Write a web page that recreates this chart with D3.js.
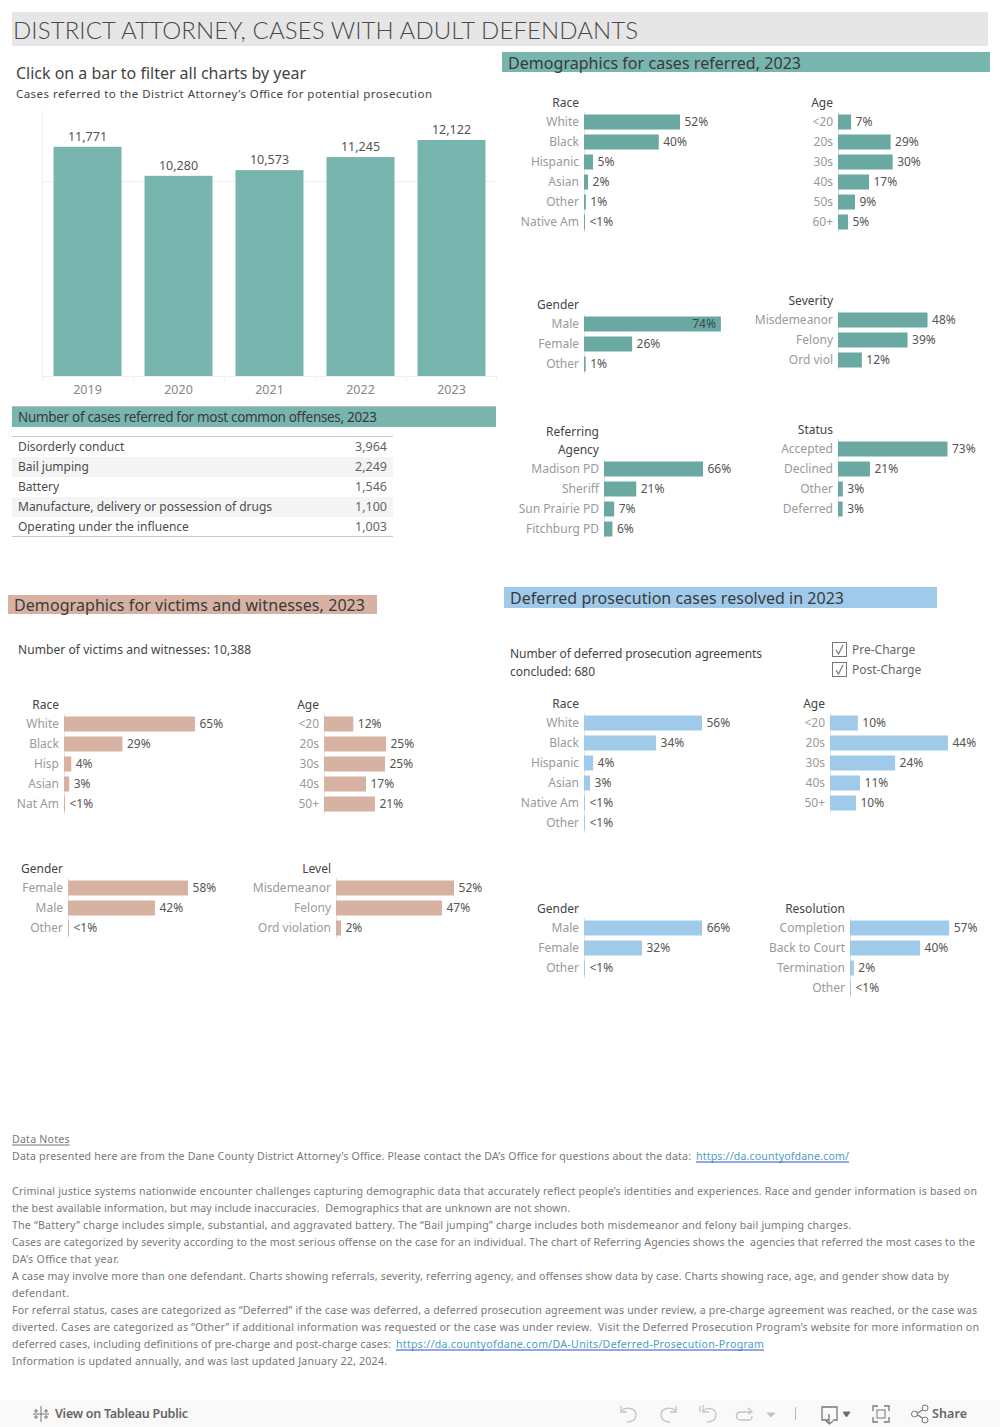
<!DOCTYPE html>
<html><head><meta charset="utf-8">
<script src="https://cdn.jsdelivr.net/npm/d3@7"></script>
<style>
html,body{margin:0;padding:0;background:#fff}
svg{display:block}
text{font-family:"Noto Sans",sans-serif}
</style></head><body>
<div id="chart"></div>
<script>
// ---------- data ----------
const years=["2019","2020","2021","2022","2023"];
const yearCases=[11771,10280,10573,11245,12122];
const offenses=["Disorderly conduct","Bail jumping","Battery","Manufacture, delivery or possession of drugs","Operating under the influence"];
const offenseCases=[3964,2249,1546,1100,1003];

const refRaceCats=["White","Black","Hispanic","Asian","Other","Native Am"];
const refRaceVals=[52,40.5,4.9,2.2,1,0.5];
const refRaceLabels=["52%","40%","5%","2%","1%","<1%"];
const refAgeCats=["<20","20s","30s","40s","50s","60+"];
const refAgeVals=[7.1,28.5,29.6,16.8,9.2,5.4];
const refAgeLabels=["7%","29%","30%","17%","9%","5%"];
const refGenderCats=["Male","Female","Other"];
const refGenderVals=[74,26,0.9];
const refGenderLabels=["74%","26%","1%"];
const refSevCats=["Misdemeanor","Felony","Ord viol"];
const refSevVals=[48.4,37.6,12.9];
const refSevLabels=["48%","39%","12%"];
const refAgencyCats=["Madison PD","Sheriff","Sun Prairie PD","Fitchburg PD"];
const refAgencyVals=[66,21.5,6.8,5.6];
const refAgencyLabels=["66%","21%","7%","6%"];
const refStatusCats=["Accepted","Declined","Other","Deferred"];
const refStatusVals=[73,21.3,3.2,3.1];
const refStatusLabels=["73%","21%","3%","3%"];

const vicRaceCats=["White","Black","Hisp","Asian","Nat Am"];
const vicRaceVals=[65,29,3.6,2.6,0.5];
const vicRaceLabels=["65%","29%","4%","3%","<1%"];
const vicAgeCats=["<20","20s","30s","40s","50+"];
const vicAgeVals=[12,25.4,25,17.2,20.9];
const vicAgeLabels=["12%","25%","25%","17%","21%"];
const vicGenderCats=["Female","Male","Other"];
const vicGenderVals=[58,42,0.4];
const vicGenderLabels=["58%","42%","<1%"];
const vicLevelCats=["Misdemeanor","Felony","Ord violation"];
const vicLevelVals=[52,46.7,2.2];
const vicLevelLabels=["52%","47%","2%"];

const defRaceCats=["White","Black","Hispanic","Asian","Native Am","Other"];
const defRaceVals=[56,34.2,4.3,2.9,0.4,0.4];
const defRaceLabels=["56%","34%","4%","3%","<1%","<1%"];
const defAgeCats=["<20","20s","30s","40s","50+"];
const defAgeVals=[10.4,44,24.3,11.2,9.7];
const defAgeLabels=["10%","44%","24%","11%","10%"];
const defGenderCats=["Male","Female","Other"];
const defGenderVals=[66,32.4,0.5];
const defGenderLabels=["66%","32%","<1%"];
const defResCats=["Completion","Back to Court","Termination","Other"];
const defResVals=[57,40.3,2.2,0.5];
const defResLabels=["57%","40%","2%","<1%"];

const checkItems=["Pre-Charge","Post-Charge"];
const noteLines=[
"Criminal justice systems nationwide encounter challenges capturing demographic data that accurately reflect people\u2019s identities and experiences. Race and gender information is based on",
"the best available information, but may include inaccuracies.  Demographics that are unknown are not shown.",
"The \u201CBattery\u201D charge includes simple, substantial, and aggravated battery. The \u201CBail jumping\u201D charge includes both misdemeanor and felony bail jumping charges.",
"Cases are categorized by severity according to the most serious offense on the case for an individual. The chart of Referring Agencies shows the  agencies that referred the most cases to the",
"DA\u2019s Office that year.",
"A case may involve more than one defendant. Charts showing referrals, severity, referring agency, and offenses show data by case. Charts showing race, age, and gender show data by",
"defendant.",
"For referral status, cases are categorized as \u201CDeferred\u201D if the case was deferred, a deferred prosecution agreement was under review, a pre-charge agreement was reached, or the case was",
"diverted. Cases are categorized as \u201COther\u201D if additional information was requested or the case was under review.  Visit the Deferred Prosecution Program\u2019s website for more information on"
];

// ---------- layout ----------
const TEAL="#78b5ae",TEAL_D="#6aa9a2",PEACH="#d7b2a2",BLUE="#9fcae9";
const DARK="#555",GREY="#9a9a9a",HEAD="#3a3a3a";
const svg=d3.select("#chart").append("svg").attr("width",1000).attr("height",1427);
function T(x,cy,s,o={}){
  const t=svg.append("text").attr("x",x).attr("y",cy).attr("dy","0.35em")
   .attr("font-size",o.size||12).attr("fill",o.fill||DARK).attr("text-anchor",o.anchor||"start").text(s);
  t.style("white-space","pre");
  if(o.weight)t.attr("font-weight",o.weight);
  if(o.font)t.style("font-family",o.font);
  if(o.w){t.attr("textLength",o.w).attr("lengthAdjust","spacing");}
  return t;
}
function R(x0,y0,x1,y1,f){svg.append("rect").attr("x",x0).attr("y",y0).attr("width",x1-x0).attr("height",y1-y0).attr("fill",f);}
function L(x1,y1,x2,y2,c,w=1){svg.append("line").attr("x1",x1).attr("y1",y1).attr("x2",x2).attr("y2",y2).attr("stroke",c).attr("stroke-width",w);}

// title and headers
R(12,12,988,46,"#e6e6e6");
T(13,30.5,"DISTRICT ATTORNEY, CASES WITH ADULT DEFENDANTS",{size:24,fill:"#4a4a4a",w:625,weight:300,font:"Lato"});
R(502,52,990,72,TEAL);
T(508,63,"Demographics for cases referred, 2023",{size:16,fill:HEAD,w:293});
T(16,73,"Click on a bar to filter all charts by year",{size:16,fill:"#444",w:290});
T(16,94,"Cases referred to the District Attorney\u2019s Office for potential prosecution",{size:11.5,fill:"#444",w:416});

// year bars
const yx=d3.scaleBand().domain(years).range([42,497]).paddingInner(0.2527).paddingOuter(0.1264);
const yy=d3.scaleLinear().domain([0,13660]).range([376,110]);
L(42.5,110,42.5,376,"#efefef");
L(42,181.5,496,181.5,"#efefef");
L(42,376.5,496,376.5,"#efefef");
yx.domain().forEach((d,i)=>L(42.5+yx.step()*i,376,42.5+yx.step()*i,381,"#efefef"));
L(496.5,376,496.5,381,"#efefef");
svg.append("g").selectAll("rect").data(years).join("rect")
 .attr("x",d=>yx(d)).attr("width",yx.bandwidth())
 .attr("y",(d,i)=>yy(yearCases[i])).attr("height",(d,i)=>yy(0)-yy(yearCases[i])).attr("fill",TEAL);
years.forEach((d,i)=>{
  T(yx(d)+yx.bandwidth()/2,yy(yearCases[i])-10,d3.format(",")(yearCases[i]),{anchor:"middle",size:12.5});
  T(yx(d)+yx.bandwidth()/2,390,d,{anchor:"middle",size:12.5,fill:"#888"});
});

// offenses table
L(12,406.5,496,406.5,"#bbb");
R(12,407,496,427,TEAL);
T(18,417.5,"Number of cases referred for most common offenses, 2023",{size:13.5,fill:HEAD,w:359});
const tRow=d3.scaleBand().domain(offenses).range([437,537]);
offenses.forEach((o,i)=>{
  if(i%2)R(12,tRow(o),393,tRow(o)+20,"#f4f4f4");
  T(18,tRow(o)+10,o,{size:12,fill:"#4c4c4c"});
  T(387,tRow(o)+10,d3.format(",")(offenseCases[i]),{size:12.5,fill:"#666",anchor:"end"});
});
L(12,436.5,393,436.5,"#ccc");L(12,536.5,393,536.5,"#ccc");

// bar panels
function panel(o){
  const n=o.cats.length,rowH=20;
  const y=d3.scaleBand().domain(o.cats).range([o.top,o.top+n*rowH]).paddingInner(0.25).paddingOuter(0.125);
  const x=d3.scaleLinear().domain([0,100]).range([o.axis,o.axis+o.ppp*100]);
  L(o.axis+0.5,o.top,o.axis+0.5,o.top+n*rowH,"#e4e4e4");
  const tx=o.axis-5;
  (o.title).forEach((s,i)=>T(o.titleX!==undefined?o.titleX:tx,o.titleY+i*18,s,{size:12,fill:"#444",anchor:"end"}));
  svg.append("g").selectAll("rect").data(o.vals).join("rect")
    .attr("x",x(0)).attr("width",d=>Math.max(1,x(d)-x(0)))
    .attr("y",(d,i)=>y(o.cats[i])).attr("height",y.bandwidth()).attr("fill",o.color);
  o.cats.forEach((c,i)=>{
    const cy=y(c)+y.bandwidth()/2;
    T(tx,cy,c,{size:12,fill:GREY,anchor:"end"});
    if(o.inside!==undefined&&o.vals[i]>=o.inside)
      T(x(o.vals[i])-5,cy,o.labels[i],{size:12,fill:"#2f4f4b",anchor:"end"});
    else
      T(Math.max(x(o.vals[i]),o.axis+1)+4.5,cy,o.labels[i],{size:12,fill:DARK});
  });
}
[
 {title:["Race"],titleY:103,top:112,axis:584,ppp:1.846,cats:refRaceCats,vals:refRaceVals,labels:refRaceLabels,color:TEAL_D},
 {title:["Age"],titleY:103,top:112,axis:838,ppp:1.846,cats:refAgeCats,vals:refAgeVals,labels:refAgeLabels,color:TEAL_D},
 {title:["Gender"],titleY:305,top:314,axis:584,ppp:1.85,cats:refGenderCats,vals:refGenderVals,labels:refGenderLabels,color:TEAL_D,inside:70},
 {title:["Severity"],titleY:301,top:310,axis:838,ppp:1.85,cats:refSevCats,vals:refSevVals,labels:refSevLabels,color:TEAL_D},
 {title:["Referring","Agency"],titleY:432,top:459,axis:604,ppp:1.5,cats:refAgencyCats,vals:refAgencyVals,labels:refAgencyLabels,color:TEAL_D},
 {title:["Status"],titleY:430,top:439,axis:838,ppp:1.5,cats:refStatusCats,vals:refStatusVals,labels:refStatusLabels,color:TEAL_D},
 {title:["Race"],titleY:705,titleX:59,top:714,axis:64,ppp:2.015,cats:vicRaceCats,vals:vicRaceVals,labels:vicRaceLabels,color:PEACH},
 {title:["Age"],titleY:705,top:714,axis:324,ppp:2.44,cats:vicAgeCats,vals:vicAgeVals,labels:vicAgeLabels,color:PEACH},
 {title:["Gender"],titleY:869,top:878,axis:68,ppp:2.07,cats:vicGenderCats,vals:vicGenderVals,labels:vicGenderLabels,color:PEACH},
 {title:["Level"],titleY:869,top:878,axis:336,ppp:2.27,cats:vicLevelCats,vals:vicLevelVals,labels:vicLevelLabels,color:PEACH},
 {title:["Race"],titleY:704,top:713,axis:584,ppp:2.107,cats:defRaceCats,vals:defRaceVals,labels:defRaceLabels,color:BLUE},
 {title:["Age"],titleY:704,top:713,axis:830,ppp:2.68,cats:defAgeCats,vals:defAgeVals,labels:defAgeLabels,color:BLUE},
 {title:["Gender"],titleY:909,top:918,axis:584,ppp:1.79,cats:defGenderCats,vals:defGenderVals,labels:defGenderLabels,color:BLUE},
 {title:["Resolution"],titleY:909,top:918,axis:850,ppp:1.74,cats:defResCats,vals:defResVals,labels:defResLabels,color:BLUE}
].forEach(panel);

// victims and deferred headers
R(8,595,377,614,PEACH);
T(14,605.5,"Demographics for victims and witnesses, 2023",{size:16,fill:HEAD,w:351});
T(18,650,"Number of victims and witnesses: 10,388",{size:12,fill:"#444",w:233});
R(504,587,937,608,BLUE);
T(510,598.5,"Deferred prosecution cases resolved in 2023",{size:16,fill:HEAD,w:334});
T(510,654,"Number of deferred prosecution agreements",{size:12,fill:"#444",w:252});
T(510,672,"concluded: 680",{size:12,fill:"#444",w:85});
checkItems.forEach((c,i)=>{
  const cy=650+i*20;
  svg.append("rect").attr("x",832.5).attr("y",cy-7.5).attr("width",14).attr("height",14).attr("fill","#fff").attr("stroke","#777");
  svg.append("path").attr("d",`M836,${cy} L838.5,${cy+4} L843,${cy-5}`).attr("fill","none").attr("stroke","#777").attr("stroke-width",1.2);
  T(852,cy,c,{size:12,fill:"#666"});
});

// notes
const NS=10.6,NC="#777";
T(12,1139,"Data Notes",{size:NS,fill:NC,w:57.5});
L(12,1145,69.5,1145,"#777");
T(12,1156,"Data presented here are from the Dane County District Attorney\u2019s Office. Please contact the DA\u2019s Office for questions about the data: ",{size:NS,fill:NC,w:682});
T(696,1156,"https://da.countyofdane.com/",{size:NS,fill:"#4a9dc0",w:153});
L(696,1162,849,1162,"#2b4fd0");
const noteEnds=[977,570,851,975,119,949,69,977,979];
noteLines.forEach((s,i)=>T(12,1191+i*17,s,{size:NS,fill:NC,w:noteEnds[i]-12}));
T(12,1344,"deferred cases, including definitions of pre-charge and post-charge cases: ",{size:NS,fill:NC,w:382});
T(396,1344,"https://da.countyofdane.com/DA-Units/Deferred-Prosecution-Program",{size:NS,fill:"#4a9dc0",w:368});
L(396,1350,764,1350,"#2b4fd0");
T(12,1361,"Information is updated annually, and was last updated January 22, 2024.",{size:NS,fill:NC,w:375});

// toolbar
R(0,1400,1000,1427,"#f9f9f9");
const ic="#777",icl="#c4c4c4";
function P(d,c,w=1.3,f="none"){svg.append("path").attr("d",d).attr("fill",f).attr("stroke",c).attr("stroke-width",w);}
P("M41,1406V1422M33,1414H49M36,1409V1413M34,1411H38M46,1409V1413M44,1411H48M36,1415V1419M34,1417H38M46,1415V1419M44,1417H48",ic,1);
T(55,1414,"View on Tableau Public",{size:12.5,fill:"#666",weight:600,w:133});
P("M621,1406V1412H627M621,1411C626,1406 636,1408 636,1415C636,1420 631,1422 627,1422",icl);
P("M676,1406V1412H670M676,1411C671,1406 661,1408 661,1415C661,1420 666,1422 670,1422",icl);
P("M700,1406V1412M703,1405V1412H709M703,1411C708,1406 716,1409 716,1415C716,1420 711,1422 707,1422",icl);
P("M752,1412H741C735,1412 735,1420 741,1420H749C752,1420 752,1418 752,1416M748,1408L752,1412L748,1414",icl);
P("M767,1413H775L771,1417Z",icl,1,icl);
L(795.5,1407,795.5,1420,"#bbb");
P("M829,1420H822V1407H837V1420H833M829,1414V1424M826,1421L829.5,1424L833,1421",ic);
P("M843,1412H850L846.5,1417Z",ic,1,"#666");
P("M873,1411V1406H878M884,1406H889V1411M889,1417V1422H884M878,1422H873V1417",ic);
svg.append("rect").attr("x",877).attr("y",1410).attr("width",8).attr("height",8).attr("fill","none").attr("stroke",ic);
P("M916,1414L924,1409M916,1414L924,1419",ic);
[[914.5,1414],[925,1408],[925,1420]].forEach(p=>svg.append("circle").attr("cx",p[0]).attr("cy",p[1]).attr("r",3).attr("fill","#f9f9f9").attr("stroke",ic));
T(932,1414,"Share",{size:12.5,fill:"#666",weight:600,w:35});
</script></body></html>
